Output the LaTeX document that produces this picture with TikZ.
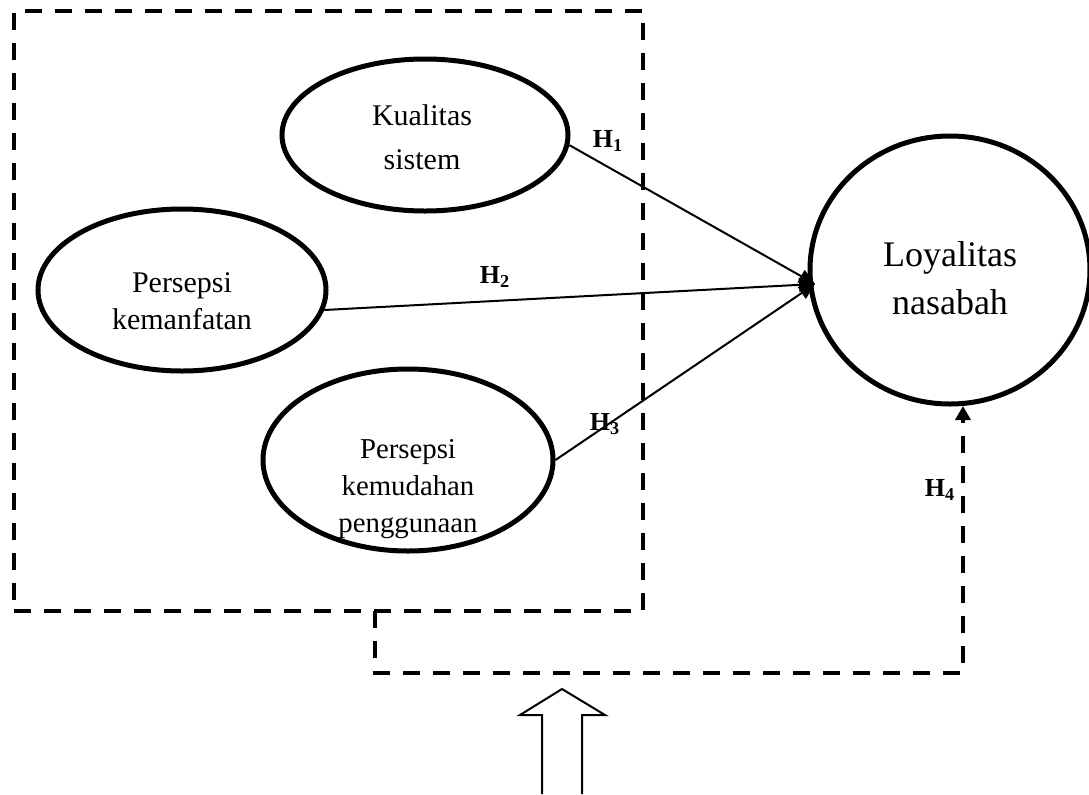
\documentclass[tikz,border=0pt]{standalone}
\usepackage{fontspec}
\setmainfont{Liberation Serif}
\usetikzlibrary{arrows.meta,shapes.geometric}

\begin{document}
\begin{tikzpicture}[x=0.5pt,y=-0.5pt,
            construct/.style={ellipse, draw, line width=2.5pt, inner sep=0pt},
            dashline/.style={line width=2pt, dash pattern=on 8.5pt off 6.5pt},
            hyp/.style={font=\fontsize{13}{15}\selectfont\bfseries, inner sep=0pt},
            ctext/.style={align=center, inner sep=0pt}]
            \useasboundingbox (0,0) rectangle (1089,794);
            \node [dashline, draw, minimum width=314.5pt, minimum height=300pt, inner sep=0pt] (frame) at (328.5,311) {};
            \node [construct, minimum width=143pt, minimum height=76pt] (kualitas) at (425,135) {};
            \node [construct, minimum width=144pt, minimum height=81pt] (manfaat) at (182,290) {};
            \node [construct, minimum width=145pt, minimum height=91pt] (mudah) at (408,460) {};
            \node [construct, minimum width=140pt, minimum height=134pt] (loyal) at (950,270) {};
            \node [ctext, font=\fontsize{15}{22}\selectfont] (kualitastxt) at (422,137) {Kualitas\\sistem};
            \node [ctext, font=\fontsize{15}{18.5}\selectfont] (manfaattxt) at (182,301) {Persepsi\\kemanfatan};
            \node [ctext, font=\fontsize{14.4}{18.5}\selectfont] (mudahtxt) at (408,489) {Persepsi\\kemudahan\\penggunaan};
            \node [ctext, font=\fontsize{18}{24}\selectfont] (loyaltxt) at (950,278) {Loyalitas\\nasabah};
            \coordinate (meet) at (815,284);
            \coordinate (h4tip) at (963,406);
            \coordinate (framefoot) at (375,611);
            \coordinate (bend) at (375,673);
            \draw [line width=1pt, -{Triangle[length=8pt,width=7pt]}] (kualitas.-4) -- (meet);
            \draw [line width=1pt, -{Triangle[length=8pt,width=7pt]}] (manfaat.-8) -- (meet);
            \draw [line width=1pt, -{Triangle[length=8pt,width=7pt]}] (mudah.east) -- (meet);
            \draw [dashline, -{Triangle[length=7pt,width=7.5pt]}] (framefoot) -- (bend) -| (h4tip);
            \node [hyp] (h1) at (608,141) {H\textsubscript{1}};
            \node [hyp] (h2) at (495,277) {H\textsubscript{2}};
            \node [hyp] (h3) at (605,424) {H\textsubscript{3}};
            \node [hyp] (h4) at (940,490) {H\textsubscript{4}};
            \draw [line width=1pt] (542,794) -- (542,715) -- (520,715) -- (562,689) -- (605,715) -- (582,715) -- (582,794);
        \end{tikzpicture}
\end{document}
